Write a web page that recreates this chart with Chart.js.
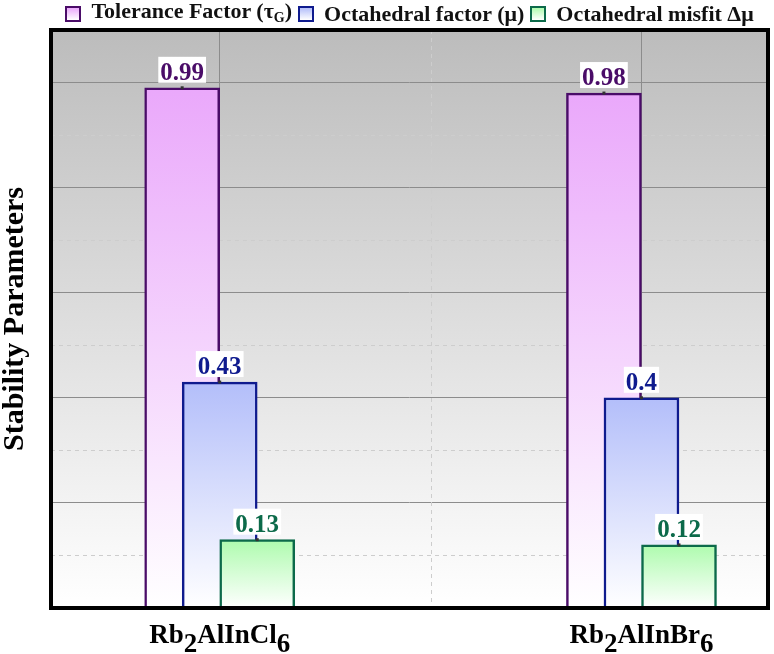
<!DOCTYPE html>
<html>
<head>
<meta charset="utf-8">
<script src="https://cdn.jsdelivr.net/npm/chart.js@4.4.1/dist/chart.umd.min.js"></script>
<style>
  html, body { margin: 0; padding: 0; background: #fff; }
  #wrap { position: relative; width: 774px; height: 654px; }
  #legend {
    position: absolute; top: 1px; left: 51px; width: 717px; height: 26px;
    display: flex; justify-content: center; align-items: center;
    font: bold 22px "Liberation Serif", "Times New Roman", serif; color: #111;
    line-height: 24px;
  }
  #legend .item { display: flex; align-items: center; margin: 0 3px; white-space: nowrap; }
  #legend .box { width: 12px; height: 12px; border: 2px solid; margin-right: 10px; }
  #legend sub { font-size: 14px; vertical-align: -4px; }
</style>
</head>
<body>
<div id="wrap">
  <div id="legend"></div>
  <canvas id="chart" width="774" height="654"></canvas>
</div>
<script>
const categories = ["Rb2AlInCl6", "Rb2AlInBr6"];
const seriesNames = ["Tolerance Factor (τ_G)", "Octahedral factor (μ)", "Octahedral misfit Δμ"];
const toleranceFactor = [0.99, 0.98];
const octahedralFactor = [0.43, 0.4];
const octahedralMisfit = [0.13, 0.12];
const yMajorTicks = [0.2, 0.4, 0.6, 0.8, 1.0];
const yMinorTicks = [0.1, 0.3, 0.5, 0.7, 0.9];
const xMinorTicks = [0.5];

const serif = '"Liberation Serif", "Times New Roman", serif';
const borderColors = ["#4a0c68", "#0f1b8e", "#0c6a4a"];
const topFills = ["#eaa8fb", "#b3befa", "#aefbae"];
// bars of one compound overlap by half a bar
const seriesShift = [-0.089, 0, 0.089];

const seriesValues = [toleranceFactor, octahedralFactor, octahedralMisfit];

// html legend (needs the subscript G)
const legendEl = document.getElementById("legend");
seriesNames.forEach((name, s) => {
  const item = document.createElement("span");
  item.className = "item";
  const box = document.createElement("span");
  box.className = "box";
  box.style.borderColor = borderColors[s];
  box.style.background = "linear-gradient(" + topFills[s] + ", #ffffff)";
  const txt = document.createElement("span");
  txt.innerHTML = name.replace(/_(\w)/, "<sub>$1</sub>");
  item.appendChild(box);
  item.appendChild(txt);
  legendEl.appendChild(item);
});

const datasets = seriesValues.map((vals, s) => ({
  label: seriesNames[s].replace("_", ""),
  data: vals.map((v, i) => ({ x: i + seriesShift[s], y: v })),
  order: seriesValues.length - s,
  grouped: false,
  barThickness: 75,
  borderWidth: 2.5,
  borderColor: borderColors[s],
  backgroundColor: (ctx) => {
    const chart = ctx.chart;
    const y = chart.scales.y;
    if (!chart.chartArea || !y || !ctx.raw) return topFills[s];
    const top = y.getPixelForValue(ctx.raw.y);
    const bottom = y.getPixelForValue(0);
    const g = chart.ctx.createLinearGradient(0, top, 0, bottom);
    g.addColorStop(0, topFills[s]);
    g.addColorStop(1, "#ffffff");
    return g;
  },
}));

const plotBackground = {
  id: "plotBackground",
  beforeDraw(chart) {
    const { ctx, chartArea: a } = chart;
    const g = ctx.createLinearGradient(0, a.top, 0, a.bottom);
    g.addColorStop(0, "#bcbcbc");
    g.addColorStop(1, "#ffffff");
    ctx.save();
    ctx.fillStyle = g;
    ctx.fillRect(a.left, a.top, a.right - a.left, a.bottom - a.top);
    ctx.restore();
  },
};

const minorGrid = {
  id: "minorGrid",
  beforeDatasetsDraw(chart) {
    const { ctx, chartArea: a, scales } = chart;
    ctx.save();
    ctx.strokeStyle = "#cdcdcd";
    ctx.lineWidth = 1;
    ctx.setLineDash([4, 4]);
    yMinorTicks.forEach((v) => {
      const py = Math.round(scales.y.getPixelForValue(v)) + 0.5;
      ctx.beginPath();
      ctx.moveTo(a.left, py);
      ctx.lineTo(a.right, py);
      ctx.stroke();
    });
    xMinorTicks.forEach((v) => {
      const px = Math.round(scales.x.getPixelForValue(v)) + 0.5;
      ctx.beginPath();
      ctx.moveTo(px, a.top);
      ctx.lineTo(px, a.bottom);
      ctx.stroke();
    });
    ctx.restore();
  },
};

const valueLabels = {
  id: "valueLabels",
  afterDatasetsDraw(chart) {
    const ctx = chart.ctx;
    ctx.save();
    ctx.font = "bold 25px " + serif;
    ctx.textAlign = "center";
    ctx.textBaseline = "alphabetic";
    chart.data.datasets.forEach((ds, s) => {
      chart.getDatasetMeta(s).data.forEach((bar, i) => {
        const text = String(ds.data[i].y);
        const w = ctx.measureText(text).width;
        ctx.fillStyle = "#ffffff";
        ctx.fillRect(bar.x - w / 2 - 2, bar.y - 31, w + 4, 26);
        ctx.fillStyle = borderColors[s];
        ctx.fillText(text, bar.x, bar.y - 8);
        // small marker at the bar top
        ctx.fillStyle = "#333";
        ctx.fillRect(bar.x - 1.5, bar.y - 1.5, 3, 3);
      });
    });
    ctx.restore();
  },
};

// draws digits of a formula as subscripts
function drawFormula(ctx, text, cx, baseline, size) {
  const parts = text.match(/\d+|\D+/g);
  ctx.font = "bold " + size + "px " + serif;
  let total = 0;
  parts.forEach((p) => { total += ctx.measureText(p).width; });
  let x = cx - total / 2;
  ctx.textAlign = "left";
  parts.forEach((p) => {
    const sub = /\d/.test(p);
    ctx.fillText(p, x, baseline + (sub ? 9 : 0));
    x += ctx.measureText(p).width;
  });
}

const frameAndLabels = {
  id: "frameAndLabels",
  afterDraw(chart) {
    const { ctx, chartArea: a, scales } = chart;
    ctx.save();
    ctx.strokeStyle = "#000";
    ctx.lineWidth = 4;
    ctx.strokeRect(a.left, a.top, a.right - a.left, a.bottom - a.top);
    ctx.fillStyle = "#000";
    ctx.textBaseline = "alphabetic";
    categories.forEach((c, i) => {
      drawFormula(ctx, c, scales.x.getPixelForValue(i), a.bottom + 35, 27);
    });
    ctx.restore();
  },
};

const chart = new Chart(document.getElementById("chart"), {
  type: "bar",
  data: { datasets },
  plugins: [plotBackground, minorGrid, valueLabels, frameAndLabels],
  options: {
    responsive: false,
    animation: false,
    events: [],
    layout: { padding: { top: 30, right: 6, bottom: 46, left: 0 } },
    scales: {
      x: {
        type: "linear",
        offset: false,
        min: -0.4,
        max: 1.3,
        afterBuildTicks: (scale) => {
          scale.ticks = categories.map((c, i) => ({ value: i }));
        },
        ticks: { display: false },
        grid: { color: "#8c8c8c", lineWidth: 1, drawTicks: false, offset: false },
        border: { display: false },
      },
      y: {
        min: 0,
        max: 1.1,
        afterBuildTicks: (scale) => {
          scale.ticks = yMajorTicks.map((v) => ({ value: v }));
        },
        ticks: { display: false },
        grid: { color: "#8c8c8c", lineWidth: 1, drawTicks: false },
        border: { display: false },
        title: {
          display: true,
          text: "Stability Parameters",
          color: "#000",
          font: { family: serif, size: 30, weight: "bold", lineHeight: 1 },
          padding: { top: 0, bottom: 21 },
        },
      },
    },
    plugins: {
      legend: { display: false },
      tooltip: { enabled: false },
    },
  },
});
</script>
</body>
</html>
